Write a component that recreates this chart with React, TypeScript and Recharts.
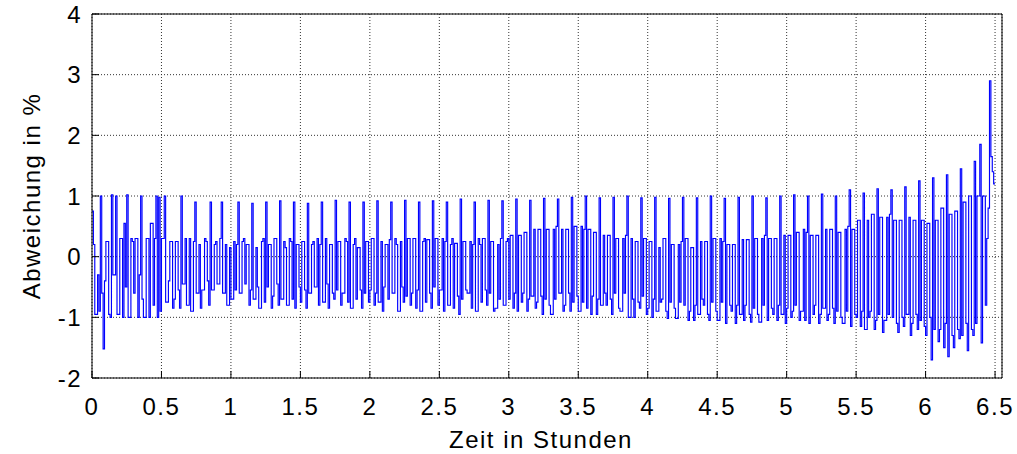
import { CartesianGrid, Line, LineChart, XAxis, YAxis } from 'recharts';

// sample spacing of the measurement, in hours
const STEP = 0.01;

// deviation in %, one array per hour (100 samples each)
const hour0 = [
  0.75, 0.2, -0.95, -0.95, -0.3, -0.9, 1.0, -0.6, -1.52, -0.4,
  0.25, 0.25, -0.95, -1.0, 1.02, -0.3, -0.3, 1.0, -0.95, -0.95,
  0.3, 0.3, -1.0, 0.55, -0.5, 1.02, -1.0, -1.0, 0.3, 0.25,
  -0.6, 0.3, 0.3, -1.0, -0.3, 1.0, -0.7, -1.0, -1.0, 0.3,
  0.3, -1.0, 0.55, 0.55, -0.8, 0.3, 1.0, -1.0, 0.98, -0.9,
  0.3, 0.3, 1.0, -0.75, -0.75, -0.4, 0.25, 0.25, -0.85, -0.7,
  0.25, 0.25, -0.55, -0.85, 1.0, -0.45, -0.45, 0.3, -0.8, -0.8,
  0.3, -0.9, -0.9, 0.25, 0.9, -0.6, -0.6, 0.2, -0.85, -0.55,
  -0.55, 0.3, 0.25, -0.4, -0.8, 0.9, -0.55, -0.55, 0.2, 0.25,
  -0.45, -0.45, 0.3, 0.9, -0.6, -0.6, 0.2, -0.8, -0.8, 0.15,
];
const hour1 = [
  -0.7, -0.7, 0.25, -0.55, 0.2, 0.9, -0.6, -0.6, 0.25, 0.3,
  -0.45, 0.2, 0.2, -0.8, -0.55, 0.88, -0.7, -0.7, 0.15, -0.5,
  -0.85, -0.85, 0.25, 0.3, -0.75, 0.9, -0.5, 0.2, 0.2, -0.85,
  -0.65, 0.3, 0.3, -0.45, -0.8, 0.92, -0.7, -0.7, 0.25, 0.15,
  -0.8, -0.8, 0.3, 0.25, -0.7, 0.9, -0.85, 0.2, 0.2, -0.5,
  -0.75, 0.25, 0.25, -0.55, -0.85, 0.88, -0.6, -0.6, 0.2, 0.25,
  -0.5, -0.5, 0.3, -0.8, 0.2, 0.9, -0.75, -0.75, 0.3, -0.45,
  -0.85, 0.2, 0.2, -0.6, -0.7, 0.93, -0.55, 0.25, 0.25, -0.8,
  -0.6, -0.6, 0.3, 0.25, -0.75, 0.9, -0.85, -0.85, 0.2, 0.3,
  -0.7, 0.15, 0.15, -0.55, -0.85, 0.9, -0.6, 0.25, 0.25, -0.75,
];
const hour2 = [
  -0.55, 0.3, 0.3, -0.8, -0.6, 0.92, -0.75, -0.75, 0.25, -0.9,
  -0.5, 0.2, 0.2, -0.7, 0.28, 0.9, -0.6, -0.6, 0.3, 0.2,
  -0.9, -0.9, 0.25, -0.5, -0.75, 0.93, -0.65, 0.3, 0.3, -0.8,
  -0.6, 0.3, 0.3, -0.85, -0.55, 0.9, -0.9, -0.9, 0.25, 0.3,
  -0.75, 0.28, 0.28, -0.6, -0.85, 0.92, -0.5, 0.3, 0.3, -0.8,
  -0.55, -0.55, 0.3, -0.9, 0.25, 0.9, -0.8, -0.8, 0.2, 0.3,
  -0.85, 0.22, 0.22, -0.65, -0.95, 0.95, -0.7, 0.25, 0.25, -0.55,
  -0.6, -0.6, 0.25, -0.85, 0.2, 0.9, -0.9, -0.9, 0.3, 0.2,
  -0.75, 0.3, 0.3, -0.55, -0.8, 0.93, -0.6, 0.25, 0.25, -0.9,
  -0.85, -0.85, 0.2, -0.7, 0.3, 0.92, -0.8, -0.8, 0.25, 0.3,
];
const hour3 = [
  -0.7, 0.35, 0.35, -0.85, -0.6, 0.95, -0.9, 0.35, 0.35, -0.75,
  -0.6, 0.4, 0.4, -0.9, -0.7, 0.93, -0.65, -0.65, 0.45, -0.85,
  -0.75, 0.45, 0.45, -0.65, -0.95, 0.96, -0.7, 0.45, 0.45, -0.8,
  -0.95, -0.95, 0.45, -0.7, 0.5, 0.95, -0.6, -0.6, 0.45, -0.9,
  -0.8, 0.45, 0.45, -0.6, -0.9, 0.98, -0.75, 0.5, 0.5, -0.65,
  -0.9, -0.9, 0.5, -0.75, 0.45, 1.0, -0.85, 0.45, 0.45, -0.95,
  -0.65, 0.4, 0.4, -0.95, -0.7, 0.97, -0.8, -0.8, 0.35, -0.6,
  -0.8, 0.35, 0.35, -0.7, -0.95, 0.98, -0.6, 0.3, 0.3, -0.85,
  -0.9, -0.9, 0.3, -0.6, 0.35, 1.0, -1.0, -1.0, 0.3, -0.7,
  -1.0, 0.25, 0.25, -0.75, -0.85, 0.97, -0.65, 0.3, 0.3, -0.95,
];
const hour4 = [
  -0.85, 0.25, 0.25, -1.0, -0.7, 0.98, -0.9, -0.9, 0.15, -0.75,
  -0.7, 0.3, 0.3, -0.9, -1.02, 0.96, -0.75, 0.2, 0.2, -0.85,
  -1.02, -1.02, 0.2, -0.75, 0.25, 0.98, -0.8, 0.3, 0.3, -1.05,
  -0.9, 0.15, 0.15, -1.05, -0.8, 0.97, -0.95, -0.95, 0.25, -0.7,
  -0.8, 0.25, 0.25, -0.95, -1.05, 1.0, -0.75, 0.3, 0.3, -0.9,
  -1.05, -1.05, 0.3, -0.75, 0.25, 0.96, -1.1, 0.2, 0.2, -0.8,
  -0.9, 0.2, 0.2, -1.1, -0.8, 0.98, -0.95, -0.95, 0.28, -1.05,
  -0.8, 0.28, 0.28, -0.95, -1.08, 1.0, -0.85, 0.3, 0.3, -0.95,
  -1.08, -1.08, 0.3, -0.8, 0.35, 0.97, -1.05, 0.3, 0.3, -0.85,
  -0.95, 0.3, 0.3, -1.05, -0.8, 1.0, -0.95, -0.95, 0.35, -1.1,
];
const hour5 = [
  -0.85, 0.35, 0.35, -1.0, -0.9, 1.02, -0.8, 0.4, 0.4, -1.05,
  -0.9, -0.9, 0.45, -1.05, 0.4, 1.0, -1.1, 0.35, 0.35, -0.95,
  -0.8, 0.35, 0.35, -1.1, -0.95, 1.03, -0.85, -0.85, 0.45, -1.05,
  -0.95, 0.45, 0.45, -0.85, -1.1, 1.0, -0.9, 0.4, 0.4, -1.0,
  -1.1, -1.1, 0.45, -0.9, 0.5, 1.1, -1.15, 0.45, 0.45, -0.95,
  -1.0, 0.6, 0.6, -1.15, -0.9, 1.05, -1.2, -1.2, 0.6, -1.0,
  -0.9, 0.7, 0.7, -1.2, -1.05, 1.12, -0.95, 0.65, 0.65, -1.25,
  -1.05, -1.05, 0.65, -0.95, 0.7, 1.1, -1.0, 0.6, 0.6, -1.1,
  -1.25, 0.6, 0.6, -1.0, -1.15, 1.15, -0.95, -0.95, 0.65, -1.3,
  -1.1, 0.6, 0.6, -0.95, -1.2, 1.25, -1.05, 0.6, 0.6, -1.15,
];
const hour6 = [
  -1.3, 0.55, 0.55, -1.0, -1.7, 1.3, -1.2, 0.6, 0.6, -1.4,
  -1.2, 0.8, 0.8, -1.5, -1.1, 1.35, -1.65, 0.7, 0.7, -1.3,
  -1.5, 0.75, 0.75, -1.2, -1.35, 1.45, -1.3, 0.9, 0.9, -1.1,
  -1.55, 1.0, 1.0, -1.2, -1.3, 1.57, -1.1, 1.0, 1.0, 1.85,
  -1.42, 1.0, 1.0, -0.8, 0.3, 0.8, 2.9, 1.65, 1.4, 1.2,
  1.2,
];

const xTicks = [0, 0.5, 1, 1.5, 2, 2.5, 3, 3.5, 4, 4.5, 5, 5.5, 6, 6.5];
const yTicks = [-2, -1, 0, 1, 2, 3, 4];

const values = [...hour0, ...hour1, ...hour2, ...hour3, ...hour4, ...hour5, ...hour6];
const data = values.map((v, i) => ({ t: Number((i * STEP).toFixed(2)), v }));

const font = '"Liberation Sans", Arial, sans-serif';
const tickStyle = { fill: '#000', fontSize: 24, fontFamily: font, letterSpacing: 1.5 };

export default function App() {
  return (
    <div style={{ position: 'absolute', left: 0, top: 0, background: '#fff' }}>
      <LineChart
        width={1017}
        height={454}
        data={data}
        margin={{ top: 0, right: 0, left: 0, bottom: 0 }}
      >
        <CartesianGrid stroke="#333" strokeDasharray="1 2" />
        <XAxis
          dataKey="t"
          type="number"
          domain={[0, 6.55]}
          ticks={xTicks}
          allowDataOverflow
          height={76}
          stroke="#000"
          tickSize={-7}
          tickMargin={27}
          tick={tickStyle}
          label={{
            value: 'Zeit in Stunden',
            position: 'insideBottom',
            offset: 6,
            dx: -6,
            style: { fill: '#000', fontSize: 24, fontFamily: font, letterSpacing: 1.5 },
          }}
        />
        <XAxis
          xAxisId="top"
          orientation="top"
          dataKey="t"
          type="number"
          domain={[0, 6.55]}
          ticks={xTicks}
          allowDataOverflow
          height={14}
          stroke="#000"
          tickSize={-7}
          tick={false}
        />
        <YAxis
          type="number"
          domain={[-2, 4]}
          ticks={yTicks}
          allowDataOverflow
          width={92}
          stroke="#000"
          tickSize={-7}
          tickMargin={17}
          tick={tickStyle}
          label={{
            value: 'Abweichung in %',
            angle: -90,
            position: 'insideLeft',
            offset: 31,
            style: {
              fill: '#000',
              fontSize: 24,
              fontFamily: font,
              letterSpacing: 1.5,
              textAnchor: 'middle',
            },
          }}
        />
        <YAxis
          yAxisId="right"
          orientation="right"
          type="number"
          domain={[-2, 4]}
          ticks={yTicks}
          allowDataOverflow
          width={15}
          stroke="#000"
          tickSize={-7}
          tick={false}
        />
        <Line
          type="stepAfter"
          dataKey="v"
          stroke="#0000ff"
          strokeWidth={1.15}
          dot={false}
          isAnimationActive={false}
        />
        {/* invisible copy so the top / right frame axes get drawn */}
        <Line
          xAxisId="top"
          yAxisId="right"
          dataKey="v"
          stroke="none"
          dot={false}
          activeDot={false}
          legendType="none"
          isAnimationActive={false}
        />
      </LineChart>
    </div>
  );
}
